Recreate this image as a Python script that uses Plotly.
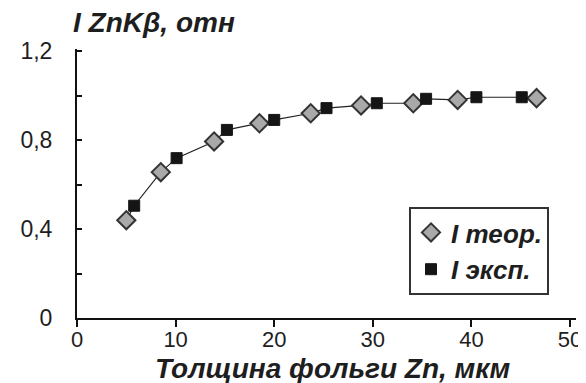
import plotly.graph_objects as go

# Theoretical values (diamonds)
x_theor = [5.0, 8.5, 13.9, 18.5, 23.7, 28.8, 34.1, 38.6, 46.6]
y_theor = [0.44, 0.656, 0.794, 0.876, 0.921, 0.956, 0.966, 0.981, 0.989]
# Experimental values (squares)
x_exp = [5.8, 10.1, 15.2, 20.0, 25.3, 30.4, 35.4, 40.5, 45.1]
y_exp = [0.505, 0.719, 0.846, 0.891, 0.944, 0.966, 0.986, 0.993, 0.993]

y_tickvals = [0, 0.4, 0.8, 1.2]
y_ticktext = ["0", "0,4", "0,8", "1,2"]
x_tickvals = [0, 10, 20, 30, 40, 50]

# connecting curve through all points, sorted by thickness
pts = sorted(zip(x_theor + x_exp, y_theor + y_exp))
x_line = [p[0] for p in pts]
y_line = [p[1] for p in pts]

FONT = "Liberation Sans, Arial, sans-serif"
TXT = "#1e1e1e"

fig = go.Figure()
fig.add_trace(go.Scatter(x=x_line, y=y_line, mode="lines",
                         line=dict(color="#222222", width=1.2),
                         showlegend=False, hoverinfo="skip"))
fig.add_trace(go.Scatter(x=x_theor, y=y_theor, mode="markers", name="I теор.",
                         marker=dict(symbol="diamond", size=14, color="#a9a9a9",
                                     line=dict(color="#333333", width=2))))
fig.add_trace(go.Scatter(x=x_exp, y=y_exp, mode="markers", name="I эксп.",
                         marker=dict(symbol="square", size=11, color="#151515",
                                     line=dict(color="#151515", width=1))))

fig.update_layout(
    width=586, height=383,
    margin=dict(l=68, r=13, t=41, b=73),
    paper_bgcolor="white", plot_bgcolor="white",
    font=dict(family=FONT, color=TXT, size=22),
    legend=dict(x=(404 - 68) / 505, y=(310 - 199) / 269, xanchor="left", yanchor="top",
                bgcolor="white", bordercolor="#333333", borderwidth=2,
                font=dict(family=FONT, size=26, color=TXT, weight="bold", style="italic"),
                itemsizing="trace", tracegroupgap=0),
    xaxis=dict(range=[0, 50.6], tickvals=x_tickvals, showgrid=False, zeroline=False,
               showline=True, linecolor="#111111", linewidth=2,
               ticks="outside", ticklen=7, tickwidth=2, tickcolor="#111111",
               ticklabelstandoff=-6,
               tickfont=dict(family=FONT, size=22, color=TXT)),
    yaxis=dict(range=[0, 1.21], tickvals=y_tickvals, ticktext=y_ticktext,
               showgrid=False, zeroline=False,
               showline=True, linecolor="#111111", linewidth=2,
               ticks="inside", ticklen=5, tickwidth=1.5, tickcolor="#111111",
               ticklabelstandoff=18,
               minor=dict(dtick=0.2, tick0=0, ticks="inside", ticklen=5,
                          tickwidth=1.5, tickcolor="#111111"),
               tickfont=dict(family=FONT, size=23, color=TXT)),
    annotations=[
        dict(text="I ZnKβ, отн", xref="paper", yref="paper",
             x=(62 - 68) / 505, y=1 + (41 - 14) / 269, xanchor="left", yanchor="middle",
             showarrow=False,
             font=dict(family=FONT, size=28, color=TXT, weight="bold", style="italic")),
        dict(text="Толщина фольги Zn, мкм", xref="paper", yref="paper",
             x=(327 - 68) / 505, y=-(360 - 310) / 269, xanchor="center", yanchor="middle",
             showarrow=False,
             font=dict(family=FONT, size=28, color=TXT, weight="bold", style="italic")),
    ],
)

fig.write_html("out.html")
